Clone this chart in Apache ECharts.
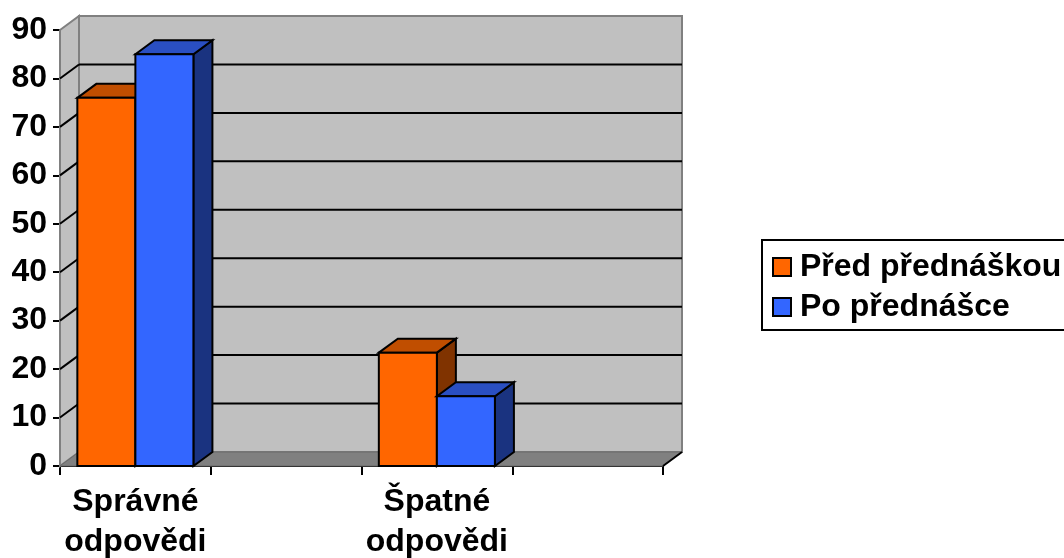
<!DOCTYPE html>
<html>
<head>
<meta charset="utf-8">
<script src="https://cdn.jsdelivr.net/npm/echarts@6/dist/echarts.min.js"></script>
<style>
  html, body { margin: 0; padding: 0; background: #fff; }
  #chart { width: 1064px; height: 558px; }
</style>
</head>
<body>
<div id="chart"></div>
<script>
// Category slots along the floor (two of them are left empty)
const categories = ['Správné\nodpovědi', '', 'Špatné\nodpovědi', ''];
const seriesNames = ['Před přednáškou', 'Po přednášce'];
const predValues = [76, null, 23.4, null];
const poValues = [85, null, 14.4, null];
const yMin = 0, yMax = 90, yStep = 10;

// Oblique depth of the box (pixels)
const DX = 19, DY = -14;
const FONT = '"Liberation Sans", Arial, sans-serif';

const palettes = [
  { front: '#FF6600', top: '#C04E00', side: '#803300' },
  { front: '#3366FF', top: '#2A4FC2', side: '#1A3380' }
];

function toItems(values) {
  const out = [];
  values.forEach((v, i) => { if (v !== null) out.push([i, v]); });
  return out;
}

// Walls, floor and gridlines of the box
function renderFrame(params, api) {
  const cs = params.coordSys;
  const L = cs.x, R = cs.x + cs.width, T = cs.y, B = cs.y + cs.height;
  const children = [];
  // back wall
  children.push({ type: 'rect', shape: { x: L + DX, y: T + DY, width: R - L, height: B - T },
    style: { fill: '#C0C0C0', stroke: '#808080', lineWidth: 2 } });
  // left wall
  children.push({ type: 'polygon', shape: { points: [[L, T], [L + DX, T + DY], [L + DX, B + DY], [L, B]] },
    style: { fill: '#C0C0C0', stroke: '#808080', lineWidth: 2 } });
  // gridlines on back and left walls
  for (let v = yMin + yStep; v < yMax; v += yStep) {
    const y = api.coord([0, v])[1];
    children.push({ type: 'line', shape: { x1: L + DX, y1: y + DY, x2: R + DX, y2: y + DY },
      style: { stroke: '#000', lineWidth: 2 } });
    children.push({ type: 'line', shape: { x1: L, y1: y, x2: L + DX, y2: y + DY },
      style: { stroke: '#000', lineWidth: 2 } });
  }
  // floor
  children.push({ type: 'polygon', shape: { points: [[L, B], [R, B], [R + DX, B + DY], [L + DX, B + DY]] },
    style: { fill: '#808080', stroke: '#6a6a6a', lineWidth: 1 } });
  children.push({ type: 'line', shape: { x1: R, y1: B, x2: R + DX, y2: B + DY },
    style: { stroke: '#000', lineWidth: 2 } });
  return { type: 'group', children: children };
}

function barRenderer(idx) {
  const pal = palettes[idx];
  return function (params, api) {
    const cat = api.value(0), val = api.value(1);
    const top = api.coord([cat, val]);
    const base = api.coord([cat, 0]);
    const w = api.size([1, 0])[0] * 0.385;
    const x0 = top[0] - w + idx * w, x1 = x0 + w;
    const yt = top[1], yb = base[1];
    const edge = { stroke: '#000', lineWidth: 2, lineJoin: 'miter' };
    return {
      type: 'group',
      children: [
        { type: 'polygon', shape: { points: [[x1, yt], [x1 + DX, yt + DY], [x1 + DX, yb + DY], [x1, yb]] },
          style: Object.assign({ fill: pal.side }, edge) },
        { type: 'polygon', shape: { points: [[x0, yt], [x0 + DX, yt + DY], [x1 + DX, yt + DY], [x1, yt]] },
          style: Object.assign({ fill: pal.top }, edge) },
        { type: 'rect', shape: { x: x0, y: yt, width: w, height: yb - yt },
          style: Object.assign({ fill: pal.front }, edge) }
      ]
    };
  };
}

const chart = echarts.init(document.getElementById('chart'), null, { renderer: 'canvas' });
chart.setOption({
  animation: false,
  backgroundColor: '#fff',
  grid: { left: 60, right: 401, top: 30, bottom: 92, containLabel: false, outerBoundsMode: 'none' },
  legend: {
    data: seriesNames,
    orient: 'vertical',
    left: 762, top: 240,
    backgroundColor: '#fff',
    borderColor: '#000', borderWidth: 2, borderRadius: 0,
    padding: [11, 40, 7, 10],
    itemWidth: 18, itemHeight: 18, itemGap: 8,
    icon: 'rect',
    itemStyle: { borderColor: '#000', borderWidth: 2 },
    textStyle: { fontFamily: FONT, fontWeight: 'bold', fontSize: 32, color: '#000', padding: [0, 0, 0, 4] }
  },
  xAxis: {
    type: 'category',
    data: categories,
    boundaryGap: true,
    axisLine: { lineStyle: { color: '#000', width: 2 } },
    axisTick: { show: true, interval: 0, length: 9, lineStyle: { color: '#000', width: 2 } },
    axisLabel: { interval: 0, margin: 16, color: '#000', fontFamily: FONT, fontWeight: 'bold', fontSize: 32, lineHeight: 40 },
    splitLine: { show: false }
  },
  yAxis: {
    type: 'value',
    min: yMin, max: yMax, interval: yStep,
    axisLine: { show: true, lineStyle: { color: '#000', width: 2 } },
    axisTick: { show: true, length: 7, lineStyle: { color: '#000', width: 2 } },
    axisLabel: { margin: 13, color: '#000', fontFamily: FONT, fontWeight: 'bold', fontSize: 32 },
    splitLine: { show: false }
  },
  series: [
    { type: 'custom', name: 'frame', silent: true, renderItem: renderFrame, data: [[0, 0]], z: 1 },
    { type: 'custom', name: seriesNames[0], renderItem: barRenderer(0), data: toItems(predValues),
      itemStyle: { color: palettes[0].front }, encode: { x: 0, y: 1 }, z: 2 },
    { type: 'custom', name: seriesNames[1], renderItem: barRenderer(1), data: toItems(poValues),
      itemStyle: { color: palettes[1].front }, encode: { x: 0, y: 1 }, z: 2 }
  ]
});
</script>
</body>
</html>
